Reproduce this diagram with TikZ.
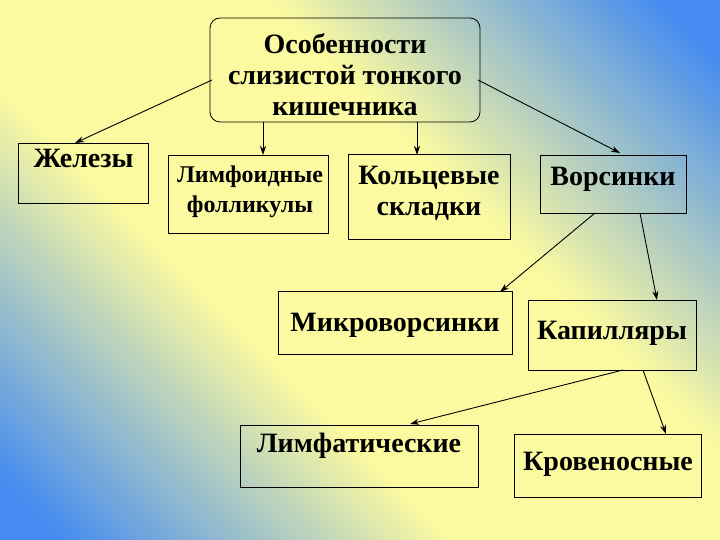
\documentclass[tikz,border=0pt]{standalone}
\usepackage{fontspec}
\setmainfont{Liberation Serif}
\usetikzlibrary{arrows.meta}
\definecolor{bb}{RGB}{70,140,240}
\definecolor{yy}{RGB}{252,250,160}
\pgfdeclarehorizontalshading{byb}{100bp}{color(0bp)=(bb); color(18bp)=(bb); color(40bp)=(yy); color(60bp)=(yy); color(82bp)=(bb); color(100bp)=(bb)}
\begin{document}
\begin{tikzpicture}[x=1pt,y=-1pt,
  bx/.style={draw=black,line width=0.8pt,fill=none},
  lab/.style={font=\fontsize{28}{31}\selectfont\bfseries,align=center,anchor=north},
  ar/.style={-{Stealth[length=9pt,width=6pt]},line width=0.9pt}]
\shade[shading=byb,shading angle=45] (0,0) rectangle (720,540);
\useasboundingbox (0,0) rectangle (720,540);
\node[draw,rounded corners=10pt,line width=0.8pt,minimum width=270pt,minimum height=104pt] (top) at (345,70) {};
\node[lab] (topt) at (345,30) {Особенности\\слизистой тонкого\\кишечника};
\node[bx,minimum width=130pt,minimum height=60pt] (z) at (83,173) {};
\node[lab,anchor=north west] (zt) at (30,146) {Железы};
\node[bx,minimum width=160pt,minimum height=78pt] (l) at (248,194) {};
\node[lab,font=\fontsize{24}{30}\selectfont\bfseries] (lt) at (250,162) {Лимфоидные\\фолликулы};
\node[bx,minimum width=162pt,minimum height=85pt] (k) at (429,197) {};
\node[lab] (kt) at (429,163) {Кольцевые\\складки};
\node[bx,minimum width=146pt,minimum height=58pt] (v) at (613,184) {};
\node[lab] (vt) at (613,164) {Ворсинки};
\node[bx,minimum width=234pt,minimum height=63pt] (m) at (395,323) {};
\node[lab] (mt) at (395,310) {Микроворсинки};
\node[bx,minimum width=168pt,minimum height=70pt] (c) at (612,335) {};
\node[lab] (ct) at (612,318) {Капилляры};
\node[bx,minimum width=238pt,minimum height=62pt] (lf) at (359,456) {};
\node[lab] (lft) at (359,430) {Лимфатические};
\node[bx,minimum width=187pt,minimum height=63pt] (kr) at (608,466) {};
\node[lab] (krt) at (608,449) {Кровеносные};
\coordinate (a1) at (212,80); \coordinate (a2) at (478,80);
\draw[ar] (a1) -- (75,143);
\draw[ar] (a2) -- (620,153);
\draw[ar] (263,122) -- (263,155);
\draw[ar] (417,122) -- (417,155);
\draw[ar] (595,213) -- (500,292);
\draw[ar] (640,213) -- (657,300);
\draw[ar] (623,370) -- (410,424);
\draw[ar] (643,370) -- (666,434);
\end{tikzpicture}
\end{document}
